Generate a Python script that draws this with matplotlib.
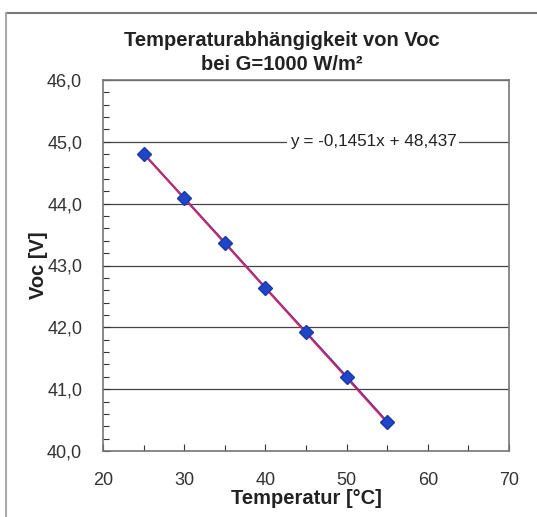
import matplotlib
matplotlib.use('Agg')
import matplotlib.pyplot as plt
import numpy as np
from matplotlib.ticker import MultipleLocator, FuncFormatter
from matplotlib.lines import Line2D

plt.rcParams['font.family'] = ['Liberation Sans', 'DejaVu Sans']

temperatur = [25, 30, 35, 40, 45, 50, 55]
voc = [44.81, 44.09, 43.37, 42.64, 41.92, 41.20, 40.47]
slope = -0.1451
intercept = 48.437

fig = plt.figure(figsize=(5.37, 5.17), dpi=100)
ax = fig.add_axes([103 / 537, 66 / 517, 406 / 537, 371 / 517])

# trend line from the fit coefficients
xs = np.array([temperatur[0], temperatur[-1]])
ax.plot(temperatur, voc, color='#2a3fc0', lw=1.6, zorder=3)
ax.plot(xs, slope * xs + intercept, color='#e8205a', lw=1.2, zorder=4)
ax.plot(temperatur, voc, ls='none', marker='D', ms=7.5, color='#1f45c8',
        markeredgecolor='#1a3aa8', zorder=5)

ax.set_xlim(20, 70)
ax.set_ylim(40, 46)
ax.xaxis.set_major_locator(MultipleLocator(10))
ax.xaxis.set_minor_locator(MultipleLocator(5))
ax.yaxis.set_major_locator(MultipleLocator(1))
ax.yaxis.set_minor_locator(MultipleLocator(0.2))
ax.yaxis.set_major_formatter(FuncFormatter(lambda v, p: f'{v:.1f}'.replace('.', ',')))
ax.grid(axis='y', which='major', color='#444444', lw=0.9)
ax.tick_params(which='both', direction='in', labelsize=13, colors='#333333')
ax.tick_params(which='major', length=5, width=0.8)
ax.tick_params(which='minor', length=4, width=0.8)
ax.tick_params(axis='y', pad=15)
ax.tick_params(axis='x', pad=15)
for s in ax.spines.values():
    s.set_color('#777777')
    s.set_linewidth(1.2)

ax.text(43.0, 45.0, 'y = -0,1451x + 48,437', fontsize=12.3, color='#222222',
        va='center', ha='left', zorder=6,
        bbox=dict(facecolor='white', edgecolor='none', pad=2))

fig.text(282 / 537, 1 - 40 / 517, 'Temperaturabhängigkeit von Voc', ha='center',
         va='center', fontsize=14.5, fontweight='bold', color='#222222')
fig.text(282 / 537, 1 - 65 / 517, 'bei G=1000 W/m²', ha='center',
         va='center', fontsize=14.5, fontweight='bold', color='#222222')
ax.set_xlabel('Temperatur [°C]', fontsize=14.5, fontweight='bold', color='#222222',
              labelpad=0)
ax.set_ylabel('Voc [V]', fontsize=14.5, fontweight='bold', color='#222222',
              labelpad=-1)

# outer chart border
fig.add_artist(Line2D([6 / 537, 1], [1 - 13 / 517] * 2, color='#777777', lw=1.5))
fig.add_artist(Line2D([6 / 537] * 2, [0, 1 - 13 / 517], color='#aaaaaa', lw=1.5))

fig.savefig('out.png', dpi=100)
